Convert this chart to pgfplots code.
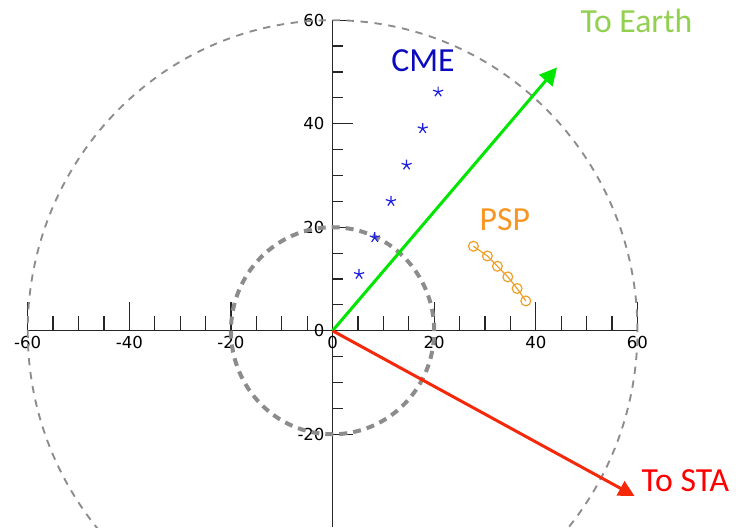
\documentclass[border=0pt]{standalone}
\usepackage{pgfplots}
\pgfplotsset{compat=1.18}
\usepackage{fontspec}
\usetikzlibrary{arrows.meta}
\newfontfamily\ticfont{DejaVu Sans}
\newfontfamily\calfont{Carlito}
\definecolor{circgray}{RGB}{140,140,140}
\definecolor{arrgreen}{RGB}{0,230,0}
\definecolor{earthgreen}{RGB}{146,208,80}
\definecolor{arrred}{RGB}{245,40,10}
\definecolor{stared}{RGB}{255,0,0}
\definecolor{cmeblue}{RGB}{10,10,190}
\definecolor{starblue}{RGB}{30,30,225}
\definecolor{pspor}{RGB}{247,150,35}
\definecolor{circor}{RGB}{240,160,40}
\begin{document}
\begin{tikzpicture}
\begin{axis}[
  x=3.81pt, y=3.881pt,
  xmin=-60, xmax=60, ymin=-38, ymax=60,
  axis lines=middle,
  axis line style={-, line width=0.9pt, draw=black!85},
  enlargelimits=false,
  clip=false,
  xtick={-60,-40,-20,0,20,40,60},
  ytick={-20,0,20,40,60},
  minor x tick num=3,
  minor y tick num=3,
  tick align=inside,
  tick style={line width=0.9pt, black!85},
  xtick style={/pgfplots/major tick length=21.75pt, /pgfplots/minor tick length=11pt},
  ytick style={/pgfplots/major tick length=15pt, /pgfplots/minor tick length=7.5pt},
  hide obscured x ticks=false,
  hide obscured y ticks=false,
  /pgf/number format/assume math mode=true,
  tick label style={font=\ticfont\fontsize{12.4}{14}\selectfont, black},
  yticklabel style={xshift=-2.5pt},
  xticklabel style={yshift=-0.5pt},
]
% circles
\draw[circgray, line width=1.4pt, dash pattern=on 5.5pt off 5pt] (axis cs:0,0) ellipse [x radius=60, y radius=60];
\draw[circgray, line width=3pt, dash pattern=on 6pt off 4.5pt] (axis cs:0,0) ellipse [x radius=20, y radius=20];
% arrows
\addplot[arrgreen, line width=2.25pt, -{Triangle[length=13pt, width=13pt]}, shorten >=-1pt] coordinates {(0,0) (44.0,50.67)};
\addplot[arrred, line width=2.25pt, -{Triangle[length=12pt, width=12pt]}, shorten >=-1pt] coordinates {(0,0) (59.2,-31.8)};
% CME
\addplot[only marks, mark=star, mark size=4pt, starblue, mark options={line width=0.9pt}] coordinates {
(20.77,46.15) (17.74,39.07) (14.57,32.02) (11.49,25.02) (8.31,18.01) (5.22,10.92)};
% PSP
\addplot[circor, line width=0.9pt, mark=o, mark size=3.7pt, mark options={line width=0.9pt}] coordinates {
(27.72,16.33) (30.47,14.45) (32.44,12.46) (34.49,10.40) (36.32,8.16) (38.03,5.76)};
% labels
\node[anchor=base, text=earthgreen, font=\calfont\fontsize{25.3}{30}\selectfont, inner sep=0pt] at (axis cs:59.8,57.7) {To Earth};
\node[anchor=base, text=stared, font=\calfont\fontsize{25.3}{30}\selectfont, inner sep=0pt] at (axis cs:69.45,-31.15) {To STA};
\node[anchor=base, text=cmeblue, font=\calfont\fontsize{25.3}{30}\selectfont, inner sep=0pt] at (axis cs:17.8,50.0) {CME};
\node[anchor=base, text=pspor, font=\calfont\fontsize{25.3}{30}\selectfont, inner sep=0pt] at (axis cs:33.9,19.4) {PSP};
\coordinate (bbll) at (axis cs:-65.45,-37.97);
\coordinate (bbur) at (axis cs:79.4,63.9);
\end{axis}
\pgfresetboundingbox
\path[use as bounding box] (bbll) rectangle (bbur);
\end{tikzpicture}
\end{document}
